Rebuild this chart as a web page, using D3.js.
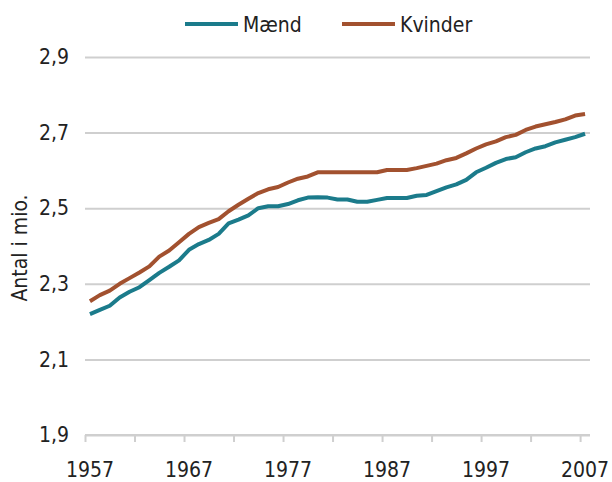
<!DOCTYPE html>
<html>
<head>
<meta charset="utf-8">
<script src="https://cdn.jsdelivr.net/npm/d3@7"></script>
<style>
  body { margin: 0; background: #fff; }
  text { font-family: "DejaVu Sans Condensed", "Open Sans", sans-serif; fill: #222; }
</style>
</head>
<body>
<div class="chart"></div>
<script>
// years shown on the category axis
const years = d3.range(1957, 2008);

// population in millions
const maend = [
  2.220, 2.231, 2.242, 2.264, 2.279, 2.291, 2.310, 2.329, 2.345, 2.362,
  2.390, 2.405, 2.416, 2.432, 2.460, 2.470, 2.481, 2.500, 2.505, 2.505,
  2.511, 2.521, 2.528, 2.529, 2.528, 2.523, 2.523, 2.517, 2.517, 2.522,
  2.527, 2.527, 2.527, 2.533, 2.535, 2.545, 2.555, 2.563, 2.575, 2.595,
  2.607, 2.620, 2.630, 2.635, 2.648, 2.658, 2.664, 2.674, 2.681, 2.688, 2.697
];
const kvinder = [
  2.254, 2.270, 2.282, 2.300, 2.315, 2.330, 2.346, 2.372, 2.388, 2.410,
  2.432, 2.450, 2.461, 2.471, 2.492, 2.509, 2.525, 2.540, 2.550, 2.556,
  2.568, 2.578, 2.584, 2.595, 2.595, 2.595, 2.595, 2.595, 2.595, 2.595,
  2.601, 2.601, 2.601, 2.606, 2.612, 2.618, 2.627, 2.633, 2.645, 2.658,
  2.669, 2.677, 2.688, 2.694, 2.707, 2.716, 2.722, 2.728, 2.735, 2.745, 2.749
];

const yTicks = [1.9, 2.1, 2.3, 2.5, 2.7, 2.9];
const xLabels = [1957, 1967, 1977, 1987, 1997, 2007];
const seriesNames = ['Mænd', 'Kvinder'];
const colors = ['#1b7b8b', '#a2512f'];

const width = 612;
const height = 482;
const plotLeft = 85, plotRight = 590, plotTop = 57, plotBottom = 435;

const svg = d3.select('.chart')
  .append('svg')
  .attr('width', width)
  .attr('height', height);

// category axis: each year sits in the middle of its slot
const xScale = d3.scaleLinear()
  .domain([years[0] - 0.5, years[years.length - 1] + 0.5])
  .range([plotLeft, plotRight]);

const yScale = d3.scaleLinear()
  .domain([1.9, 2.9])
  .range([plotBottom, plotTop]);

// gridlines + y labels
const yAxis = d3.axisLeft(yScale)
  .tickValues(yTicks)
  .tickSize(-(plotRight - plotLeft))
  .tickPadding(16)
  .tickFormat(d => d3.format('.1f')(d).replace('.', ','));

svg.append('g')
  .attr('transform', `translate(${plotLeft}, 0)`)
  .call(yAxis)
  .call(g => g.select('.domain').remove())
  .call(g => g.selectAll('line').attr('stroke', '#cfcfcf').attr('stroke-width', 2))
  .call(g => g.selectAll('text').style('font-size', '21px').attr('fill', '#222'));

// x axis: ticks every 5 categories, labels every 10 years
const tickPos = d3.range(0, 11).map(i => years[0] - 0.5 + i * 5);

const xAxis = d3.axisBottom(xScale)
  .tickValues(tickPos)
  .tickSize(7)
  .tickFormat('');

svg.append('g')
  .attr('transform', `translate(0, ${plotBottom})`)
  .call(xAxis)
  .call(g => g.select('.domain').attr('stroke', '#cfcfcf').attr('stroke-width', 2).attr('d', `M${plotLeft},0H${plotRight}`))
  .call(g => g.selectAll('line').attr('stroke', '#cfcfcf').attr('stroke-width', 2));

svg.append('g')
  .selectAll('text')
  .data(xLabels)
  .join('text')
  .attr('x', d => xScale(d))
  .attr('y', 477)
  .attr('text-anchor', 'middle')
  .style('font-size', '21px')
  .text(d => d);

// y axis title
svg.append('text')
  .attr('transform', `translate(27, 248) rotate(-90)`)
  .attr('text-anchor', 'middle')
  .style('font-size', '21px')
  .text('Antal i mio.');

// lines
const lineGenerator = d3.line()
  .x((d, i) => xScale(years[i]))
  .y(d => yScale(d));

[maend, kvinder].forEach((series, i) => {
  svg.append('path')
    .attr('fill', 'none')
    .attr('stroke', colors[i])
    .attr('stroke-width', 4)
    .attr('stroke-linejoin', 'round')
    .attr('d', lineGenerator(series));
});

// legend
const legendX = [185, 342];
const legend = svg.append('g');
seriesNames.forEach((name, i) => {
  legend.append('line')
    .attr('x1', legendX[i])
    .attr('x2', legendX[i] + 53)
    .attr('y1', 24)
    .attr('y2', 24)
    .attr('stroke', colors[i])
    .attr('stroke-width', 4);
  legend.append('text')
    .attr('x', legendX[i] + 58)
    .attr('y', 32)
    .style('font-size', '21px')
    .text(name);
});
</script>
</body>
</html>
